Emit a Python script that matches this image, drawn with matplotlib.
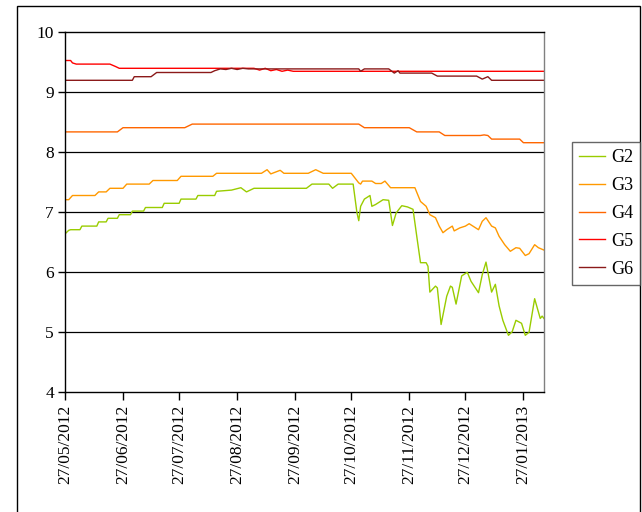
import datetime
import matplotlib
matplotlib.use('Agg')
import matplotlib.pyplot as plt
import matplotlib.dates as mdates
from matplotlib.patches import Rectangle

plt.rcParams['font.family'] = 'serif'
plt.rcParams['font.serif'] = ['Liberation Serif', 'DejaVu Serif']

# day offsets from 27/05/2012
START = datetime.date(2012, 5, 27)

g2_day = [0, 2, 3, 8, 9, 17, 18, 22, 23, 28, 29, 35, 36, 42, 43, 52, 53, 61, 62, 70,
          71, 80, 81, 89, 94, 97, 101, 129, 132, 141, 143, 146, 154, 156, 157, 158, 160,
          163, 164, 166, 168, 170, 173, 175, 177, 180, 183, 186, 188, 190, 193, 194, 195,
          198, 199, 201, 204, 206, 207, 209, 212, 215, 217, 221, 223, 225, 228, 230, 232,
          234, 237, 239, 241, 244, 246, 248, 251, 254, 255, 256]
g2_val = [6.64, 6.70, 6.71, 6.71, 6.77, 6.77, 6.84, 6.84, 6.90, 6.90, 6.96, 6.96, 7.02,
          7.02, 7.08, 7.08, 7.15, 7.15, 7.22, 7.22, 7.28, 7.28, 7.35, 7.37, 7.41, 7.34,
          7.40, 7.40, 7.47, 7.47, 7.40, 7.47, 7.47, 7.00, 6.86, 7.10, 7.22, 7.28, 7.10,
          7.13, 7.17, 7.21, 7.20, 6.78, 6.99, 7.11, 7.09, 7.05, 6.60, 6.16, 6.16, 6.10,
          5.67, 5.77, 5.74, 5.13, 5.60, 5.77, 5.75, 5.47, 5.94, 6.00, 5.85, 5.66, 5.96,
          6.17, 5.67, 5.80, 5.44, 5.20, 4.95, 5.01, 5.20, 5.15, 4.95, 5.00, 5.56, 5.23,
          5.27, 5.23]

g3_day = [0, 2, 4, 16, 17, 18, 22, 24, 31, 33, 45, 47, 60, 62, 79, 81, 105, 108, 110,
          115, 117, 130, 134, 138, 153, 157, 158, 159, 164, 166, 169, 171, 174, 187, 190,
          193, 195, 198, 200, 202, 204, 207, 208, 211, 214, 216, 218, 221, 223, 225, 228,
          230, 232, 235, 238, 241, 243, 246, 248, 251, 253, 256]
g3_val = [7.21, 7.21, 7.28, 7.28, 7.31, 7.34, 7.34, 7.40, 7.40, 7.47, 7.47, 7.53, 7.53,
          7.60, 7.60, 7.65, 7.65, 7.71, 7.64, 7.70, 7.65, 7.65, 7.71, 7.65, 7.65, 7.49,
          7.47, 7.52, 7.52, 7.48, 7.48, 7.52, 7.41, 7.41, 7.18, 7.10, 6.96, 6.91, 6.77,
          6.66, 6.71, 6.77, 6.69, 6.74, 6.77, 6.81, 6.77, 6.71, 6.85, 6.91, 6.77, 6.74,
          6.60, 6.46, 6.35, 6.41, 6.40, 6.28, 6.31, 6.46, 6.41, 6.37]

g4_day = [0, 28, 31, 64, 68, 157, 160, 184, 188, 200, 203, 222, 224, 226, 228, 243, 245, 256]
g4_val = [8.34, 8.34, 8.41, 8.41, 8.47, 8.47, 8.41, 8.41, 8.34, 8.34, 8.28, 8.28, 8.29,
          8.28, 8.22, 8.22, 8.16, 8.16]

g5_day = [0, 3, 4, 6, 24, 27, 29, 101, 104, 107, 110, 113, 116, 119, 122, 256]
g5_val = [9.53, 9.53, 9.49, 9.47, 9.47, 9.43, 9.40, 9.40, 9.37, 9.40, 9.36, 9.38, 9.35,
          9.37, 9.35, 9.35]

g6_day = [0, 36, 37, 46, 49, 78, 80, 83, 86, 89, 92, 95, 98, 101, 157, 158, 160, 173,
          176, 178, 179, 196, 199, 220, 223, 226, 228, 256]
g6_val = [9.20, 9.20, 9.26, 9.26, 9.33, 9.33, 9.36, 9.39, 9.38, 9.40, 9.38, 9.40, 9.39,
          9.39, 9.39, 9.35, 9.39, 9.39, 9.32, 9.36, 9.32, 9.32, 9.27, 9.27, 9.22, 9.26,
          9.20, 9.20]

tick_dates = [datetime.date(2012, m, 27) for m in range(5, 13)] + [datetime.date(2013, 1, 27)]


def to_dates(days):
    return [START + datetime.timedelta(days=d) for d in days]


fig = plt.figure(figsize=(6.42, 5.12), dpi=100)
ax = fig.add_axes([65 / 642, 1 - 392.3 / 512, (544 - 65) / 642, 360 / 512])

series = [
    ('G2', g2_day, g2_val, '#99CC00'),
    ('G3', g3_day, g3_val, '#FF9900'),
    ('G4', g4_day, g4_val, '#FF6600'),
    ('G5', g5_day, g5_val, '#FF0000'),
    ('G6', g6_day, g6_val, '#8B1A1A'),
]
for name, days, vals, col in series:
    ax.plot(to_dates(days), vals, color=col, lw=1.0, label=name)

ax.set_ylim(4, 10)
ax.set_yticks(range(4, 11))
ax.set_xlim(START, START + datetime.timedelta(days=256))
ax.set_xticks(tick_dates)
ax.xaxis.set_major_formatter(mdates.DateFormatter('%d/%m/%Y'))
for lab in ax.get_xticklabels():
    lab.set_rotation(90)

ax.tick_params(axis='both', labelsize=12.5, direction='out', color='black', width=1)
ax.tick_params(axis='y', length=5, pad=3)
ax.tick_params(axis='x', length=6, pad=3)

for y in range(5, 10):
    ax.axhline(y, color='black', lw=0.9, zorder=0)

for side in ['left', 'top', 'bottom']:
    ax.spines[side].set_color('black')
    ax.spines[side].set_linewidth(1)
ax.spines['right'].set_color('#808080')
ax.spines['right'].set_linewidth(1)

leg = fig.legend(loc='upper left', bbox_to_anchor=(572 / 642, 1 - 142 / 512),
                 fontsize=13, frameon=True, fancybox=False, handlelength=1.45,
                 handletextpad=0.3, labelspacing=0.6, borderpad=0.4, borderaxespad=0)
leg.get_frame().set_edgecolor('#404040')
leg.get_frame().set_linewidth(1)

fig.patches.append(Rectangle((16.5 / 642, -0.05), (639.5 - 16.5) / 642, 1.05 - 5.5 / 512,
                             transform=fig.transFigure, fill=False, edgecolor='black', lw=1))

fig.savefig('out.png', dpi=100)
